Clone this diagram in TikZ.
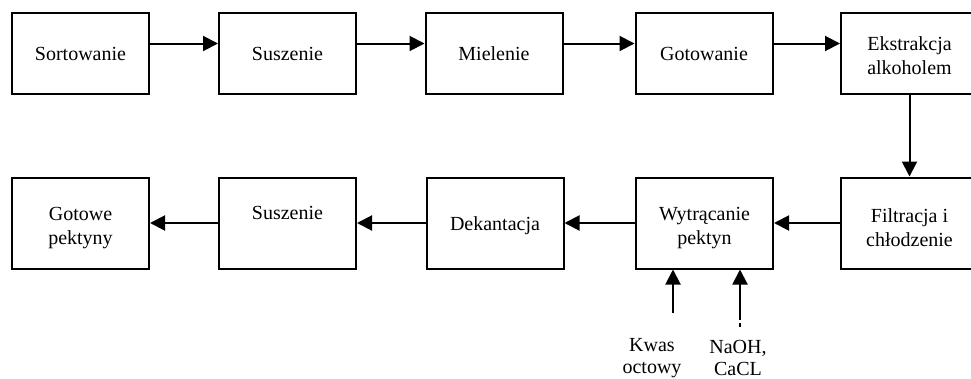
\documentclass[tikz,border=0pt]{standalone}
\usepackage{fontspec}
\setmainfont{Liberation Serif}
\usetikzlibrary{arrows.meta}
\begin{document}
\begin{tikzpicture}[x=1pt,y=-1pt,
  box/.style={draw,line width=2pt,minimum width=137pt,minimum height=81pt,inner sep=0pt},
  boxb/.style={box,minimum height=91pt},
  txt/.style={align=center,inner sep=0pt,font=\fontsize{20}{24}\selectfont},
  arr/.style={line width=2pt,-{Triangle[length=15pt,width=15pt]}},
  lbl/.style={align=center,inner sep=0pt,font=\fontsize{20}{22}\selectfont}]
\useasboundingbox (0,0) rectangle (971,378);
% top row
\node[box] (a) at (80.5,53) {};
\node[box] (b) at (287.5,53) {};
\node[box] (c) at (494,53) {};
\node[box] (d) at (704,53) {};
\node[box] (e) at (909.5,53) {};
\node[txt] (ta) at ([yshift=-1pt]a.center) {Sortowanie};
\node[txt] (tb) at ([yshift=-1pt]b.center) {Suszenie};
\node[txt] (tc) at ([yshift=-1pt]c.center) {Mielenie};
\node[txt] (td) at ([yshift=-1pt]d.center) {Gotowanie};
\node[txt] (te) at ([yshift=-3pt]e.center) {Ekstrakcja\\alkoholem};
% bottom row
\node[boxb] (f) at (909.5,223) {};
\node[boxb] (w) at (704.5,223) {};
\node[boxb] (k) at (495,223) {};
\node[boxb] (s) at (287.5,223) {};
\node[boxb] (g) at (80.5,223) {};
\node[txt] (tf) at ([yshift=-5pt]f.center) {Filtracja i\\chłodzenie};
\node[txt] (tw) at ([yshift=-5pt]w.center) {Wytrącanie\\pektyn};
\node[txt] (tk) at ([yshift=-3pt]k.center) {Dekantacja};
\node[txt] (ts) at ([yshift=-5pt]s.center) {Suszenie\\\strut};
\node[txt] (tg) at ([yshift=-5pt]g.center) {Gotowe\\pektyny};
% top arrows
\foreach \p/\q in {a/b,b/c,c/d,d/e}
  \draw[arr] ([yshift=9.5pt]\p.east) -- ([yshift=9.5pt]\q.west);
\draw[arr] (e.south) -- (f.north);
% bottom arrows
\foreach \p/\q in {f/w,w/k,k/s,s/g}
  \draw[arr] (\p.west) -- (\q.east);
% inputs
\coordinate (kw) at (673,313);
\coordinate (na) at (740,327);
\draw[arr] (kw) -- (kw |- w.south);
\draw[arr,dash pattern=on 4pt off 3pt on 80pt] (na) -- (na |- w.south);
\node[lbl] (lk) at (652,358) {Kwas\\octowy};
\node[lbl] (ln) at (738,358) {NaOH,\\CaCL};
\end{tikzpicture}
\end{document}
